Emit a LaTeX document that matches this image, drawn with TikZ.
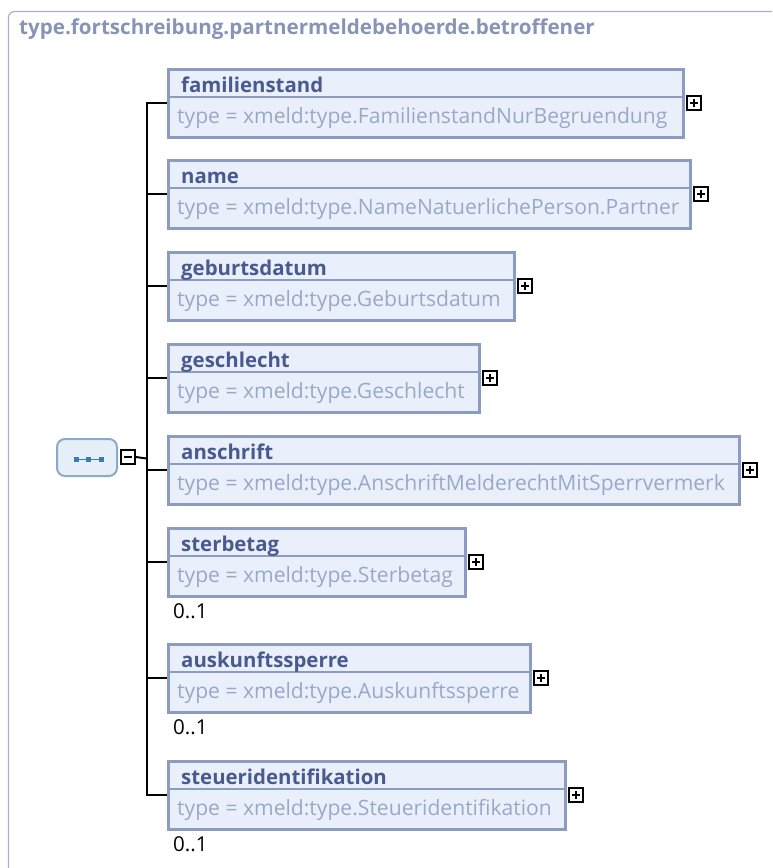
\documentclass[tikz,border=0pt]{standalone}
\usepackage{fontspec}
\setmainfont{Open Sans}
\definecolor{frame}{HTML}{A6B0CC}
\definecolor{titlec}{HTML}{8794B8}
\definecolor{bborder}{HTML}{8C9CC0}
\definecolor{bfill}{HTML}{EAF0FB}
\definecolor{namec}{HTML}{4A5A8F}
\definecolor{typec}{HTML}{9AA8C8}
\definecolor{seqborder}{HTML}{8AAAC8}
\definecolor{seqfill}{HTML}{E6EEF8}
\definecolor{seqdot}{HTML}{3D7AB0}
\tikzset{
  elbox/.style={draw=bborder, line width=3pt, fill=bfill, rectangle, inner sep=0pt, anchor=north west},
  hdr/.style={draw=bborder, line width=2pt},
  nmtext/.style={font=\fontsize{20.4}{22}\selectfont\bfseries, text=namec, inner sep=0pt, anchor=base west},
  tytext/.style={font=\fontsize{21.1}{23}\selectfont, text=typec, inner sep=0pt, anchor=base west},
  cardtext/.style={font=\fontsize{20.5}{22}\selectfont, text=black, inner sep=0pt, anchor=base west},
  pmbox/.style={draw=black, line width=2.2pt, fill=white, minimum size=13.5pt, inner sep=0pt, rectangle},
  pmsign/.style={line width=2pt},
  conn/.style={draw=black, line width=2pt},
  seqbox/.style={draw=seqborder, line width=2pt, fill=seqfill, rounded corners=8pt, minimum width=60pt, minimum height=37pt, inner sep=0pt},
}
\newcommand\elemrow[5]{%
  \node[elbox, minimum width=#3-168pt, minimum height=68pt] (#1) at (166.5,#2+1.5) {};
  \draw[hdr] ([yshift=-29.5pt]#1.north west) -- ([yshift=-29.5pt]#1.north east);
  \node[nmtext] (#1-n) at ([xshift=14.5pt,yshift=-24.5pt]#1.north west) {#4};
  \node[tytext] (#1-t) at ([xshift=10.5pt,yshift=-56pt]#1.north west) {type = xmeld:type.#5};
  \node[pmbox] (#1-p) at ([xshift=9.5pt]#1.east) {};
  \draw[pmsign] ([xshift=-4pt]#1-p.center) -- ([xshift=4pt]#1-p.center)
    ([yshift=-4pt]#1-p.center) -- ([yshift=4pt]#1-p.center);
  \draw[conn] (hub) |- (#1.west);
}
\begin{document}
\begin{tikzpicture}[x=1pt,y=-1pt]
\useasboundingbox (0,0) rectangle (772,868);
\begin{scope}
\clip (0,0) rectangle (772,868);
\draw[frame, line width=1.2pt, rounded corners=6pt] (8.5,11.5) rectangle (800,900);
\end{scope}
\node[font=\fontsize{20.6}{22}\selectfont\bfseries, text=titlec, inner sep=0pt, anchor=base west] (title) at (19,34.5) {type.fortschreibung.partnermeldebehoerde.betroffener};
\coordinate (hub) at (146.5,458.5);
\node[seqbox] (seq) at (87,457.5) {};
\node[pmbox] (minus) at (128,457) {};
\draw[pmsign] ([xshift=-4pt]minus.center) -- ([xshift=4pt]minus.center);
\draw[seqdot, line width=0.8pt] (76,459) -- (101,459);
\foreach \xx in {76,88.5,101}{\fill[seqdot] (\xx-2.5,459-2.5) rectangle (\xx+2.5,459+2.5);}
\draw[conn] (minus.east) -- (hub);
\elemrow{fam}{66}{683}{familienstand}{FamilienstandNurBegruendung}
\elemrow{name}{157}{690}{name}{NameNatuerlichePerson.Partner}
\elemrow{geb}{249}{514}{geburtsdatum}{Geburtsdatum}
\elemrow{ges}{341}{479}{geschlecht}{Geschlecht}
\elemrow{ans}{433}{739}{anschrift}{AnschriftMelderechtMitSperrvermerk}
\elemrow{ster}{525}{465}{sterbetag}{Sterbetag}
\elemrow{ausk}{641}{530}{auskunftssperre}{Auskunftssperre}
\elemrow{steu}{758}{565}{steueridentifikation}{Steueridentifikation}
\node[cardtext] (c1) at (173,618.5) {0..1};
\node[cardtext] (c2) at (173,734.5) {0..1};
\node[cardtext] (c3) at (173,851.5) {0..1};
\end{tikzpicture}
\end{document}
